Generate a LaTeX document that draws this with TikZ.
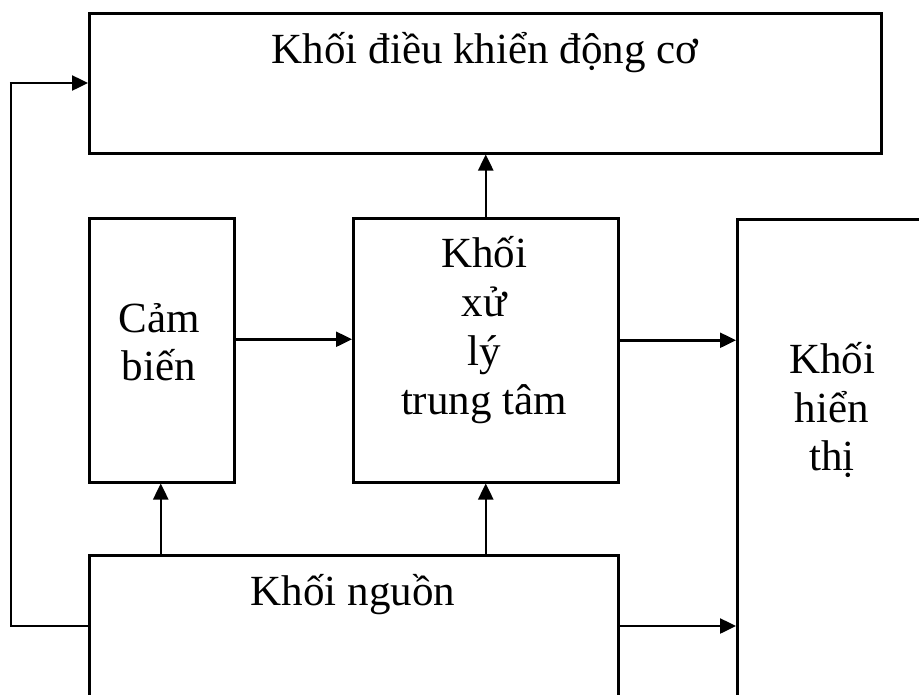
\documentclass[tikz,border=0pt]{standalone}
\usepackage{fontspec}
\setmainfont{Liberation Serif}
\usetikzlibrary{arrows.meta}
\begin{document}
\begin{tikzpicture}[x=1pt,y=-1pt,
  blk/.style={draw,line width=2.5pt,rectangle,inner sep=0pt,anchor=north west},
  lbl/.style={anchor=base,inner sep=0pt,font=\fontsize{43}{49}\selectfont},
  arr/.style={line width=2.5pt,-{Triangle[length=16pt,width=15pt]}},
  wire/.style={line width=2.5pt}]
\useasboundingbox (0,0) rectangle (919,694);
\clip (0,0) rectangle (919,694);
\fill[white] (0,0) rectangle (919,694);

% blocks
\node[blk,minimum width=792pt,minimum height=140pt] (motor) at (88,12) {};
\node[blk,minimum width=145pt,minimum height=264pt] (sensor) at (88,217) {};
\node[blk,minimum width=265pt,minimum height=264pt] (cpu) at (352,217) {};
\node[blk,minimum width=194pt,minimum height=520pt] (display) at (736,218) {};
\node[blk,minimum width=529pt,minimum height=180pt] (power) at (88,554) {};

% labels
\node[lbl] (tmotor) at (485,63) {Khối điều khiển động cơ};
\node[lbl] (ts1) at (159,332) {Cảm};
\node[lbl] (ts2) at (159,380) {biến};
\node[lbl] (tc1) at (484,267) {Khối};
\node[lbl] (tc2) at (484,316) {xử};
\node[lbl] (tc3) at (484,365) {lý};
\node[lbl] (tc4) at (484,414) {trung tâm};
\node[lbl] (td1) at (832,373) {Khối};
\node[lbl] (td2) at (832,422) {hiển};
\node[lbl] (td3) at (832,470) {thị};
\node[lbl] (tp) at (353,605) {Khối nguồn};

% connectors
\coordinate (fbtop) at (11,83);
\coordinate (fbbot) at (11,626);
\draw[arr] ([yshift=11pt]sensor.east) -- ([yshift=11pt]sensor.east -| cpu.west);
\draw[arr] ([yshift=10pt]cpu.east) -- ([yshift=10pt]cpu.east -| display.west);
\draw[arr] (cpu.north) -- (cpu.north |- motor.south);
\draw[arr] (power.north -| cpu.south) -- (cpu.south);
\draw[arr] ([xshift=-1pt]power.north -| sensor.south) -- ([xshift=-1pt]sensor.south);
\draw[arr] (fbbot -| power.east) -- (fbbot -| display.west);
\draw[wire] (fbbot -| power.west) -- (fbbot) -- (fbtop);
\draw[arr] ([xshift=-1.25pt]fbtop) -- (fbtop -| motor.west);
\end{tikzpicture}
\end{document}
